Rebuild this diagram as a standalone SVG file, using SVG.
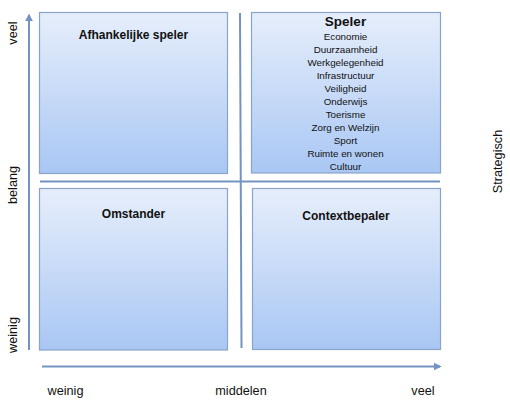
<svg xmlns="http://www.w3.org/2000/svg" width="510" height="402" viewBox="0 0 510 402">
<style>
.box{fill:url(#g);stroke:#8aa3c8;stroke-width:1.2}
.ln{stroke:#7393c2;stroke-width:2;fill:none}
.t{font-family:"Liberation Sans",Arial,sans-serif;fill:#111;text-anchor:middle}
.h{font-weight:bold;font-size:12px}
.i{font-size:9.8px}
.ax{font-size:12.7px}
</style>
<defs>
<linearGradient id="g" x1="0" y1="0" x2="0" y2="1">
<stop offset="0" stop-color="#e6eefb"/>
<stop offset="1" stop-color="#a9c7f4"/>
</linearGradient>
<marker id="ah" viewBox="0 0 10 10" refX="8" refY="5" markerWidth="4" markerHeight="4" orient="auto" markerUnits="strokeWidth">
<path d="M0,0 L10,5 L0,10 z" fill="#7393c2"/>
</marker>
</defs>
<g id="connectors">
<line class="ln" x1="29" y1="350" x2="29" y2="15" marker-end="url(#ah)"/>
<line class="ln" x1="42" y1="366.5" x2="440" y2="366.5" marker-end="url(#ah)"/>
<line class="ln" x1="40" y1="181.5" x2="440" y2="181.5"/>
<line class="ln" x1="240" y1="13" x2="241.5" y2="348"/>
</g>
<g id="afhankelijke">
<rect class="box" x="39.5" y="12.5" width="188" height="161"/>
<text class="t h" x="133.5" y="38.5">Afhankelijke speler</text>
</g>
<g id="speler">
<rect class="box" x="251.5" y="12.5" width="189" height="160.5"/>
<text class="t" x="345.5" y="26" font-weight="bold" font-size="13.5">Speler</text>
<text class="t i" x="345.5" y="39.5">Economie</text>
<text class="t i" x="345.5" y="52.6">Duurzaamheid</text>
<text class="t i" x="345.5" y="65.6">Werkgelegenheid</text>
<text class="t i" x="345.5" y="78.7">Infrastructuur</text>
<text class="t i" x="345.5" y="91.7">Veiligheid</text>
<text class="t i" x="345.5" y="104.8">Onderwijs</text>
<text class="t i" x="345.5" y="117.8">Toerisme</text>
<text class="t i" x="345.5" y="130.9">Zorg en Welzijn</text>
<text class="t i" x="345.5" y="143.9">Sport</text>
<text class="t i" x="345.5" y="157">Ruimte en wonen</text>
<text class="t i" x="345.5" y="170">Cultuur</text>
</g>
<g id="omstander">
<rect class="box" x="39.5" y="188.5" width="188" height="161.5"/>
<text class="t h" x="133.5" y="218">Omstander</text>
</g>
<g id="contextbepaler">
<rect class="box" x="252.5" y="188.5" width="188" height="161"/>
<text class="t h" x="346" y="220">Contextbepaler</text>
</g>
<g id="labels">
<text class="t ax" transform="translate(16.5,33) rotate(-90)">veel</text>
<text class="t ax" transform="translate(16.5,185) rotate(-90)">belang</text>
<text class="t ax" transform="translate(16.5,335) rotate(-90)">weinig</text>
<text class="t ax" x="65.5" y="395">weinig</text>
<text class="t ax" x="241" y="395">middelen</text>
<text class="t ax" x="423" y="395">veel</text>
<text class="t ax" transform="translate(502,161.5) rotate(-90)">Strategisch</text>
</g>
</svg>
